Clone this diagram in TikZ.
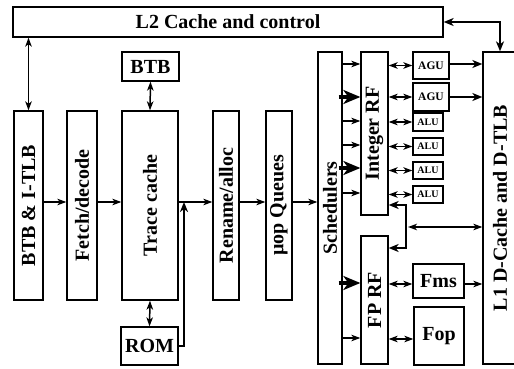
\documentclass[tikz,border=0pt]{standalone}
\usepackage{fontspec}
\setmainfont{Liberation Serif}
\usetikzlibrary{arrows.meta}
\begin{document}
\begin{tikzpicture}[x=1pt,y=-1pt,
  box/.style={draw,line width=1.3pt,inner sep=0pt,anchor=center},
  txt/.style={font=\bfseries\fontsize{20}{23}\selectfont,inner sep=0pt},
  vtxt/.style={txt,rotate=90},
  small/.style={font=\bfseries\fontsize{11.5}{13}\selectfont,inner sep=0pt},
  tiny/.style={font=\bfseries\fontsize{10}{11}\selectfont,inner sep=0pt},
  arr/.style={line width=1.5pt,-{Stealth[length=9pt,width=6.5pt,inset=2.5pt]}},
  darr/.style={line width=1.5pt,{Stealth[length=9pt,width=6.5pt,inset=2.5pt]}-{Stealth[length=9pt,width=6.5pt,inset=2.5pt]}},
  barr/.style={line width=2.4pt,-{Stealth[length=10pt,width=8pt,inset=3pt]}},
  bdarr/.style={line width=2.4pt,{Stealth[length=10pt,width=8pt,inset=3pt]}-{Stealth[length=10pt,width=8pt,inset=3pt]}},
  fatarr/.style={line width=4.5pt,-{Stealth[length=17pt,width=14pt,inset=5pt]}}
]
\useasboundingbox (0,0) rectangle (514,369);
% boxes
\node[box,minimum width=430pt,minimum height=30pt] (l2) at (228,22) {};
\node[txt] (l2t) at (l2.center) {L2 Cache and control};
\node[box,minimum width=57pt,minimum height=29pt] (btb) at (150.5,66.5) {};
\node[txt] (btbt) at (btb.center) {BTB};
\node[box,minimum width=29pt,minimum height=189pt] (itlb) at (28.5,205.5) {};
\node[vtxt] (itlbt) at (itlb.center) {BTB \& I-TLB};
\node[box,minimum width=30pt,minimum height=189pt] (fetch) at (82,205.5) {};
\node[vtxt] (fetcht) at (fetch.center) {Fetch/decode};
\node[box,minimum width=56pt,minimum height=189pt] (trace) at (150,205.5) {};
\node[vtxt] (tracet) at (trace.center) {Trace cache};
\node[box,minimum width=26pt,minimum height=189pt] (ren) at (226,205.5) {};
\node[vtxt] (rent) at (ren.center) {Rename/alloc};
\node[box,minimum width=57pt,minimum height=38pt] (rom) at (149.5,346) {};
\node[txt] (romt) at (rom.center) {ROM};
\node[box,minimum width=26pt,minimum height=189pt] (que) at (279,205.5) {};
\node[vtxt] (quet) at (que.center) {µop Queues};
\node[box,minimum width=24pt,minimum height=312pt] (sch) at (330,208) {};
\node[vtxt] (scht) at (sch.center) {Schedulers};
\node[box,minimum width=27pt,minimum height=163pt] (irf) at (374.5,133.5) {};
\node[vtxt] (irft) at (irf.center) {Integer RF};
\node[box,minimum width=27pt,minimum height=128pt] (frf) at (374.5,300) {};
\node[vtxt] (frft) at (frf.center) {FP RF};
\node[box,minimum width=36pt,minimum height=27pt] (agua) at (431,65.5) {};
\node[small] (aguat) at (agua.center) {AGU};
\node[box,minimum width=36pt,minimum height=28pt] (agub) at (431,97) {};
\node[small] (agubt) at (agub.center) {AGU};
\node[box,minimum width=30pt,minimum height=18pt] (alua) at (428,122) {};
\node[tiny] (aluat) at (alua.center) {ALU};
\node[box,minimum width=30pt,minimum height=17pt] (alub) at (428,146.5) {};
\node[tiny] (alubt) at (alub.center) {ALU};
\node[box,minimum width=30pt,minimum height=17pt] (aluc) at (428,170.5) {};
\node[tiny] (aluct) at (aluc.center) {ALU};
\node[box,minimum width=30pt,minimum height=17pt] (alud) at (428,194.5) {};
\node[tiny] (aludt) at (alud.center) {ALU};
\node[box,minimum width=51pt,minimum height=34pt] (fms) at (438.5,281) {};
\node[txt] (fmst) at (fms.center) {Fms};
\node[box,minimum width=50pt,minimum height=58pt] (fop) at (439,336) {};
\node[txt] (fopt) at (fop.center) {Fop};
\node[box,minimum width=34pt,minimum height=312pt] (l1) at (500,208) {};
\node[vtxt] (l1t) at (l1.center) {L1 D-Cache and D-TLB};
% connectors
\draw[bdarr] (l2.east) -| (l1.north);
\draw[darr] (itlb.north) -- (l2.south -| itlb.north);
\draw[darr] (btb.south) -- (trace.north);
\draw[darr] (trace.south) -- (rom.north);
\draw[arr] (itlb.east |- 0,202) -- (fetch.west |- 0,202);
\draw[arr] (fetch.east |- 0,202) -- (trace.west |- 0,202);
\draw[arr] (trace.east |- 0,202) -- (ren.west |- 0,202);
\coordinate (romj) at (184,202);
\draw[barr] (rom.east) -| (romj);
\draw[arr] (ren.east |- 0,202) -- (que.west |- 0,202);
\draw[arr] (que.east |- 0,202) -- (sch.west |- 0,202);
% scheduler to RFs
\foreach \y in {64,121,145,193} \draw[arr] (sch.east |- 0,\y) -- (irf.west |- 0,\y);
\foreach \y in {97,168} \draw[fatarr] ([xshift=-4pt]sch.east |- 0,\y) -- (irf.west |- 0,\y);
\draw[fatarr] ([xshift=-4pt]sch.east |- 0,283) -- (frf.west |- 0,283);
\draw[arr] (sch.east |- 0,338) -- (frf.west |- 0,338);
% RF to units
\foreach \u in {agua,agub,alua,alub,aluc,alud} \draw[darr] (irf.east |- \u.west) -- (\u.west);
\draw[darr] (frf.east |- 0,284) -- (fms.west |- 0,284);
\draw[darr] (frf.east |- 0,339) -- (fop.west |- 0,339);
% units to L1
\draw[barr] (agua.east |- 0,64) -- (l1.west |- 0,64);
\draw[barr] (agub.east |- 0,97) -- (l1.west |- 0,97);
\draw[arr] (fms.east |- 0,284) -- (l1.west |- 0,284);
% RF - L1 bracket
\coordinate (bra) at (406,205);
\coordinate (brb) at (406,248);
\draw[bdarr] (irf.east |- bra) -- (bra) -- (brb) -- (frf.east |- brb);
\draw[darr] (408,227) -- (l1.west |- 0,227);
\end{tikzpicture}
\end{document}
